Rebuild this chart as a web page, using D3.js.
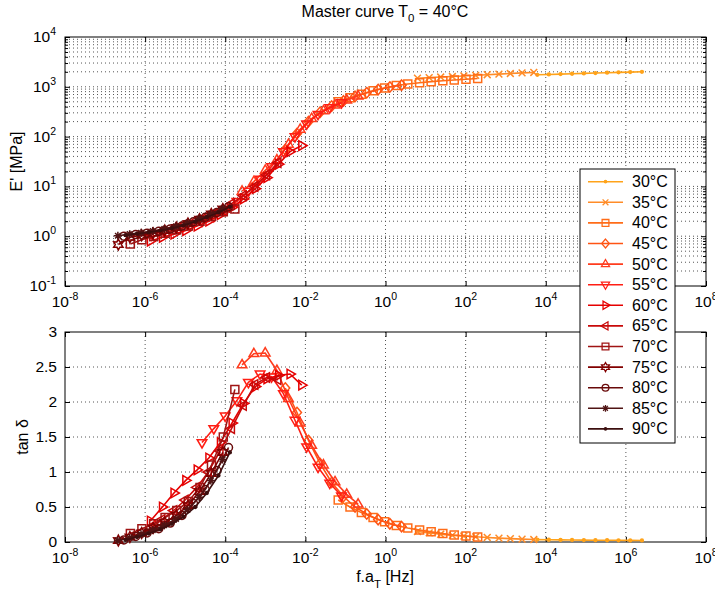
<!DOCTYPE html>
<html>
<head>
<meta charset="utf-8">
<script src="https://cdn.jsdelivr.net/npm/d3@7.9.0/dist/d3.min.js"></script>
<style>
  body { margin: 0; background: #fff; }
  svg { font-family: "Liberation Sans", Arial, Helvetica, sans-serif; }
</style>
</head>
<body>
<svg id="chart" width="715" height="597"></svg>
<script>
// temperatures of each frequency sweep
const temps = ['30°C', '35°C', '40°C', '45°C', '50°C', '55°C', '60°C', '65°C', '70°C', '75°C', '80°C', '85°C', '90°C'];
const colors = ['#ffa31a', '#ff8c28', '#ff6c18', '#ff5414', '#ff3c1e', '#ff1e14', '#e60000',
                '#c80a0a', '#a01414', '#820000', '#690a0a', '#501414', '#3c0f0f'];
const markers = ['point', 'x', 'square', 'diamond', 'triUp', 'triDown', 'triRight', 'triLeft',
                 'square', 'hexagram', 'circle', 'asterisk', 'point'];

// measured frequencies [Hz]
const freq = [0.009, 0.017, 0.034, 0.066, 0.13, 0.25, 0.49, 0.95, 1.86, 3.6, 7.1, 13.8, 27, 52, 102, 200];
// log10 of the shift factor a_T, per temperature
const logShift = [4.1, 1.4, 0, -1.9, -2.4, -3.4, -4.1, -4.4, -4.9, -5.2, -5.35, -5.5, -5.6];
// index in freq of the first point kept for each temperature
const startIdx = [6, 5, 3, 5, 3, 3, 1, 2, 2, 2, 3, 3, 4];

// E' [MPa]
const storageModulus = [
  [1740, 1770, 1800, 1830, 1860, 1890, 1920, 1950, 1975, 2000],                 // 30
  [1490, 1530, 1570, 1610, 1650, 1700, 1750, 1800, 1850, 1900, 1940],           // 35
  [500, 600, 710, 830, 950, 1060, 1140, 1210, 1270, 1320, 1370, 1420, 1470],    // 40
  [55, 115, 200, 310, 410, 520, 640, 760, 880, 990, 1080],                      // 45
  [8, 12.5, 21, 34, 70, 140, 230, 330, 430, 540, 650],                          // 50
  [2.0, 2.5, 3.3, 5.0, 8, 14, 25, 50, 100, 180, 280, 380, 480],                 // 55
  [0.8, 0.95, 1.1, 1.3, 1.6, 2.0, 2.7, 3.8, 5.6, 9, 15, 28, 50, 66],            // 60
  [1.1, 1.25, 1.45, 1.75, 2.1, 2.6, 3.3, 4.5, 6.5, 10, 17, 30],                 // 65
  [0.7, 0.85, 1.0, 1.15, 1.35, 1.6, 2.0, 2.5, 3.1, 3.5],                        // 70
  [0.68, 0.95, 1.05, 1.15, 1.3, 1.5, 1.8, 2.2, 2.8, 3.5],                       // 75
  [1.0, 1.08, 1.15, 1.25, 1.4, 1.6, 1.95, 2.4, 3.0, 3.9],                       // 80
  [1.02, 1.1, 1.17, 1.27, 1.4, 1.58, 1.85, 2.25, 2.8, 3.6],                     // 85
  [1.05, 1.12, 1.2, 1.3, 1.45, 1.65, 1.95, 2.4, 3.0, 3.9]                       // 90
];

// tan delta
const tanDelta = [
  [0.034, 0.032, 0.030, 0.029, 0.027, 0.026, 0.025, 0.024, 0.023, 0.022],
  [0.15, 0.13, 0.11, 0.095, 0.085, 0.075, 0.065, 0.055, 0.048, 0.041, 0.035],
  [0.6, 0.5, 0.42, 0.35, 0.29, 0.235, 0.2, 0.17, 0.145, 0.12, 0.1, 0.085, 0.07],
  [2.2, 1.85, 1.45, 1.12, 0.85, 0.65, 0.5, 0.4, 0.32, 0.26, 0.22],
  [2.53, 2.69, 2.70, 2.45, 2.05, 1.7, 1.38, 1.1, 0.86, 0.68, 0.54],
  [1.42, 1.62, 1.8, 2.02, 2.28, 2.4, 2.36, 2.12, 1.74, 1.36, 1.07, 0.84, 0.66],
  [0.3, 0.5, 0.7, 0.88, 1.03, 1.2, 1.42, 1.7, 1.98, 2.22, 2.33, 2.38, 2.4, 2.24],
  [0.2, 0.32, 0.45, 0.6, 0.78, 1.0, 1.3, 1.62, 1.95, 2.25, 2.35, 2.32],
  [0.12, 0.19, 0.26, 0.35, 0.45, 0.58, 0.78, 1.1, 1.5, 2.18],
  [0.02, 0.07, 0.13, 0.2, 0.28, 0.38, 0.52, 0.72, 0.98, 1.28],
  [0.03, 0.08, 0.13, 0.19, 0.27, 0.38, 0.55, 0.75, 1.02, 1.35],
  [0.02, 0.06, 0.11, 0.17, 0.24, 0.33, 0.46, 0.64, 0.88, 1.18],
  [0.03, 0.07, 0.12, 0.18, 0.26, 0.36, 0.5, 0.7, 0.95, 1.28]
];

const xTicks = [1e-8, 1e-6, 1e-4, 1e-2, 1e0, 1e2, 1e4, 1e6, 1e8];
const xExp = ['-8', '-6', '-4', '-2', '0', '2', '4', '6', '8'];
const eTicks = [1e-1, 1e0, 1e1, 1e2, 1e3, 1e4];
const eExp = ['-1', '0', '1', '2', '3', '4'];
const tanTicks = [0, 0.5, 1, 1.5, 2, 2.5, 3];

const svg = d3.select('#chart');
const left = 65, right = 706;
const top1 = 37, bot1 = 286;
const top2 = 332, bot2 = 542;

const x = d3.scaleLog().domain([1e-8, 1e8]).range([left, right]);
const yE = d3.scaleLog().domain([1e-1, 1e4]).range([bot1, top1]);
const yT = d3.scaleLinear().domain([0, 3]).range([bot2, top2]);

// minor ticks of the log E' axis
const eMinor = [];
for (let k = -1; k < 4; k++) for (let m = 2; m < 10; m++) eMinor.push(m * Math.pow(10, k));

const series = temps.map((t, k) => ({
  name: t,
  color: colors[k],
  marker: markers[k],
  pts: storageModulus[k].map((E, j) => ({
    fa: freq[startIdx[k] + j] * Math.pow(10, logShift[k]),
    E: E,
    tan: tanDelta[k][j]
  }))
}));

function markerPath(type) {
  switch (type) {
    case 'square': return 'M-4,-4H4V4H-4Z';
    case 'diamond': return 'M0,-5.2L4.5,0L0,5.2L-4.5,0Z';
    case 'triUp': return 'M0,-5.4L4.8,2.9L-4.8,2.9Z';
    case 'triDown': return 'M0,5.4L4.8,-2.9L-4.8,-2.9Z';
    case 'triRight': return 'M5.4,0L-2.9,4.8L-2.9,-4.8Z';
    case 'triLeft': return 'M-5.4,0L2.9,4.8L2.9,-4.8Z';
    case 'circle': return 'M4,0A4,4 0 1,1 -4,0A4,4 0 1,1 4,0Z';
    case 'x': return 'M-3.4,-3.4L3.4,3.4M-3.4,3.4L3.4,-3.4';
    case 'asterisk': return 'M-4,0H4M0,-4V4M-2.8,-2.8L2.8,2.8M-2.8,2.8L2.8,-2.8';
    case 'hexagram': {
      let p = '';
      for (let i = 0; i < 12; i++) {
        const r = i % 2 === 0 ? 5.4 : 3.0;
        const a = -Math.PI / 2 + i * Math.PI / 6;
        p += (i === 0 ? 'M' : 'L') + (r * Math.cos(a)).toFixed(2) + ',' + (r * Math.sin(a)).toFixed(2);
      }
      return p + 'Z';
    }
    default: return 'M1.4,0A1.4,1.4 0 1,1 -1.4,0A1.4,1.4 0 1,1 1.4,0Z';
  }
}

function addMarkers(g, s, xf, yf) {
  g.selectAll('path.mk')
    .data(s.pts)
    .join('path')
    .attr('class', 'mk')
    .attr('transform', d => `translate(${xf(d)},${yf(d)})`)
    .attr('d', markerPath(s.marker))
    .attr('fill', s.marker === 'point' ? s.color : 'none')
    .attr('stroke', s.color)
    .attr('stroke-width', 1.5);
}

function logLabel(text, exp) {
  text.append('tspan').text('10');
  text.append('tspan').attr('dy', -7).attr('font-size', 10.5).text(exp);
}

function drawFrame(yScale, top, bot, yMajor, yMinor) {
  const g = svg.append('g');
  // grid
  g.append('g').selectAll('line')
    .data(xTicks.slice(1, -1))
    .join('line')
    .attr('x1', d => x(d)).attr('x2', d => x(d))
    .attr('y1', top).attr('y2', bot);
  g.append('g').selectAll('line')
    .data(yMajor.concat(yMinor).filter(d => yScale(d) > top + 0.5 && yScale(d) < bot - 0.5))
    .join('line')
    .attr('x1', left).attr('x2', right)
    .attr('y1', d => yScale(d)).attr('y2', d => yScale(d));
  g.selectAll('line')
    .attr('stroke', '#555')
    .attr('stroke-width', 1)
    .attr('stroke-dasharray', '1,3');

  // ticks pointing inward on all four sides
  const axes = svg.append('g');
  axes.append('g').attr('transform', `translate(0,${bot})`)
    .call(d3.axisBottom(x).tickValues(xTicks).tickSizeInner(-5).tickSizeOuter(0).tickFormat(''));
  axes.append('g').attr('transform', `translate(0,${top})`)
    .call(d3.axisTop(x).tickValues(xTicks).tickSizeInner(-5).tickSizeOuter(0).tickFormat(''));
  axes.append('g').attr('transform', `translate(${left},0)`)
    .call(d3.axisLeft(yScale).tickValues(yMajor).tickSizeInner(-5).tickSizeOuter(0).tickFormat(''));
  axes.append('g').attr('transform', `translate(${right},0)`)
    .call(d3.axisRight(yScale).tickValues(yMajor).tickSizeInner(-5).tickSizeOuter(0).tickFormat(''));
  if (yMinor.length) {
    axes.append('g').attr('transform', `translate(${left},0)`)
      .call(d3.axisLeft(yScale).tickValues(yMinor).tickSizeInner(-3).tickSizeOuter(0).tickFormat(''));
    axes.append('g').attr('transform', `translate(${right},0)`)
      .call(d3.axisRight(yScale).tickValues(yMinor).tickSizeInner(-3).tickSizeOuter(0).tickFormat(''));
  }
  axes.selectAll('.domain').remove();
  axes.selectAll('line').attr('stroke', '#000');

  svg.append('rect')
    .attr('x', left).attr('y', top)
    .attr('width', right - left).attr('height', bot - top)
    .attr('fill', 'none').attr('stroke', '#000').attr('stroke-width', 1);

  // x tick labels
  svg.append('g').selectAll('text')
    .data(xTicks)
    .join('text')
    .attr('x', d => x(d))
    .attr('y', bot + 21)
    .attr('text-anchor', 'middle')
    .attr('font-size', 15.5)
    .each(function (d, i) { logLabel(d3.select(this), xExp[i]); });
}

// ---- top panel: E'
drawFrame(yE, top1, bot1, eTicks, eMinor);
svg.append('g').selectAll('text')
  .data(eTicks)
  .join('text')
  .attr('x', 56)
  .attr('y', d => yE(d) + 5)
  .attr('text-anchor', 'end')
  .attr('font-size', 15.5)
  .each(function (d, i) { logLabel(d3.select(this), eExp[i]); });

// ---- bottom panel: tan delta
drawFrame(yT, top2, bot2, tanTicks, []);
svg.append('g').selectAll('text')
  .data(tanTicks)
  .join('text')
  .attr('x', 57)
  .attr('y', d => yT(d) + 5)
  .attr('text-anchor', 'end')
  .attr('font-size', 15.5)
  .text(d => d3.format('~g')(d));

// ---- data
const lineE = d3.line().x(d => x(d.fa)).y(d => yE(d.E));
const lineT = d3.line().x(d => x(d.fa)).y(d => yT(d.tan));
const dataTop = svg.append('g');
const dataBot = svg.append('g');
series.forEach(s => {
  const gt = dataTop.append('g');
  gt.append('path').datum(s.pts).attr('d', lineE)
    .attr('fill', 'none').attr('stroke', s.color).attr('stroke-width', 1.6);
  addMarkers(gt, s, d => x(d.fa), d => yE(d.E));

  const gb = dataBot.append('g');
  gb.append('path').datum(s.pts).attr('d', lineT)
    .attr('fill', 'none').attr('stroke', s.color).attr('stroke-width', 1.6);
  addMarkers(gb, s, d => x(d.fa), d => yT(d.tan));
});

// ---- titles and axis labels
const title = svg.append('text').attr('x', 385).attr('y', 17)
  .attr('text-anchor', 'middle').attr('font-size', 16);
title.append('tspan').text('Master curve T');
title.append('tspan').attr('dy', 5).attr('font-size', 11.5).text('0');
title.append('tspan').attr('dy', -5).text(' = 40°C');

svg.append('text')
  .attr('transform', `translate(22,${(top1 + bot1) / 2}) rotate(-90)`)
  .attr('text-anchor', 'middle').attr('font-size', 16)
  .text("E' [MPa]");
svg.append('text')
  .attr('transform', `translate(28,${(top2 + bot2) / 2}) rotate(-90)`)
  .attr('text-anchor', 'middle').attr('font-size', 16)
  .text('tan δ');

const xl = svg.append('text').attr('x', 385).attr('y', 582)
  .attr('text-anchor', 'middle').attr('font-size', 16);
xl.append('tspan').text('f.a');
xl.append('tspan').attr('dy', 6).attr('font-size', 11.5).text('T');
xl.append('tspan').attr('dy', -6).text(' [Hz]');

// ---- legend
const legX = 580, legY = 169, legW = 95, legH = 274, legStep = 20.6;
const leg = svg.append('g');
leg.append('rect')
  .attr('x', legX).attr('y', legY).attr('width', legW).attr('height', legH)
  .attr('fill', '#fff').attr('stroke', '#000').attr('stroke-width', 1);
series.forEach((s, k) => {
  const cy = legY + 12.7 + k * legStep;
  const item = leg.append('g');
  item.append('line')
    .attr('x1', legX + 8).attr('x2', legX + 43).attr('y1', cy).attr('y2', cy)
    .attr('stroke', s.color).attr('stroke-width', 1.6);
  item.append('path')
    .attr('transform', `translate(${legX + 25.5},${cy}) scale(0.85)`)
    .attr('d', markerPath(s.marker))
    .attr('fill', s.marker === 'point' ? s.color : 'none')
    .attr('stroke', s.color).attr('stroke-width', 1.5);
  item.append('text')
    .attr('x', legX + 52).attr('y', cy + 5.5)
    .attr('font-size', 16)
    .text(s.name);
});
</script>
</body>
</html>
